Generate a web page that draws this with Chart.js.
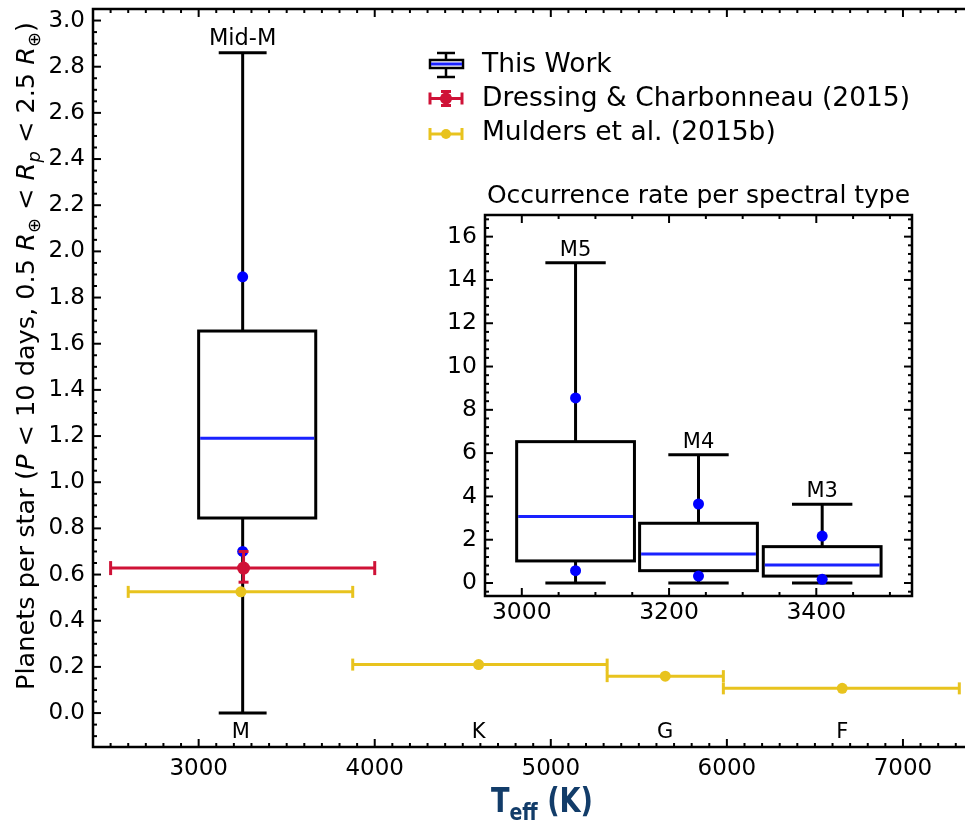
<!DOCTYPE html>
<html>
<head>
<meta charset="utf-8">
<script src="https://cdn.jsdelivr.net/npm/chart.js@4.4.1/dist/chart.umd.min.js"></script>
<style>
  html, body { margin: 0; padding: 0; background: #fff; overflow: hidden; }
  #wrap { position: relative; width: 965px; height: 824px; overflow: hidden; }
  #mainBox { position: absolute; left: 0; top: 0; width: 1010px; height: 824px; }
  #insetBox { position: absolute; left: 430px; top: 170px; width: 500px; height: 460px; }
</style>
</head>
<body>
<div id="wrap">
  <div id="mainBox"><canvas id="main" width="1010" height="824"></canvas></div>
  <div id="insetBox"><canvas id="inset" width="500" height="460"></canvas></div>
</div>
<script>
// ---- main panel: planets per star vs effective temperature ----
const xTicks = [3000, 4000, 5000, 6000, 7000];
const yTicks = [0.0, 0.2, 0.4, 0.6, 0.8, 1.0, 1.2, 1.4, 1.6, 1.8, 2.0, 2.2, 2.4, 2.6, 2.8, 3.0];
const seriesNames = ['This Work', 'Dressing & Charbonneau (2015)', 'Mulders et al. (2015b)'];

// This Work, all mid-M dwarfs: [whisker low, q1, median, q3, whisker high]
const midMTeff = 3250;
const midMBoxEdges = [3000, 3665];
const midMBox = [0.0, 0.845, 1.19, 1.655, 2.86];
const midMDots = [1.89, 0.70];

// Dressing & Charbonneau (2015)
const dcTeff = [3255];
const dcTeffLow = [2500];
const dcTeffHigh = [4000];
const dcRate = [0.628];
const dcRateLow = [0.567];
const dcRateHigh = [0.70];

// Mulders et al. (2015b), one bin per spectral type
const spectralTypes = ['M', 'K', 'G', 'F'];
const muldersTeff = [3240, 4590, 5650, 6655];
const muldersTeffLow = [2600, 3875, 5320, 5980];
const muldersTeffHigh = [3875, 5320, 5980, 7320];
const muldersRate = [0.525, 0.21, 0.16, 0.107];

// ---- inset: occurrence rate per spectral sub-type ----
const subTypes = ['M5', 'M4', 'M3'];
const subTeff = [3073, 3240, 3408];
const subBoxes = [
  [0.0, 1.02, 3.07, 6.53, 14.8],
  [0.0, 0.57, 1.34, 2.76, 5.92],
  [0.0, 0.32, 0.83, 1.68, 3.64]
];
const subDots = [[8.55, 0.57], [3.65, 0.32], [2.17, 0.17]];
const insetXTicks = [3000, 3200, 3400];
const insetYTicks = [0, 2, 4, 6, 8, 10, 12, 14, 16];

const FONT = "'DejaVu Sans', sans-serif";
const BLUE = '#0000ff';
const MEDIAN = '#1a22ff';
const RED = '#cf1237';
const YELLOW = '#e8c31e';
const NAVY = '#123c69';

function line(ctx, x1, y1, x2, y2) {
  ctx.beginPath(); ctx.moveTo(x1, y1); ctx.lineTo(x2, y2); ctx.stroke();
}

// inward ticks on every side plus the axes frame
function drawFrame(chart, xStep, yStep, xMajor, yMajor) {
  const { ctx, chartArea: a, scales: { x, y } } = chart;
  ctx.save();
  ctx.strokeStyle = '#000';
  ctx.lineWidth = 2;
  for (let v = Math.ceil(x.min / xStep) * xStep; v <= x.max; v += xStep) {
    const px = x.getPixelForValue(v);
    const len = xMajor.includes(v) ? 8 : 4;
    line(ctx, px, a.bottom, px, a.bottom - len);
    line(ctx, px, a.top, px, a.top + len);
  }
  for (let k = Math.ceil(y.min / yStep); k * yStep <= y.max + 1e-9; k++) {
    const v = k * yStep;
    const py = y.getPixelForValue(v);
    const len = yMajor.some(t => Math.abs(t - v) < 1e-6) ? 8 : 4;
    line(ctx, a.left, py, a.left + len, py);
    line(ctx, a.right, py, a.right - len, py);
  }
  ctx.lineWidth = 2.5;
  ctx.strokeRect(a.left, a.top, a.width, a.height);
  ctx.restore();
}

function drawBox(chart, pos, left, right, capHalf, stats) {
  const { ctx, scales: { x, y } } = chart;
  const [lo, q1, med, q3, hi] = stats;
  const px = x.getPixelForValue(pos);
  const l = x.getPixelForValue(left), r = x.getPixelForValue(right);
  const c1 = x.getPixelForValue(pos - capHalf), c2 = x.getPixelForValue(pos + capHalf);
  ctx.save();
  ctx.strokeStyle = '#000';
  ctx.lineWidth = 3;
  line(ctx, px, y.getPixelForValue(q3), px, y.getPixelForValue(hi));
  line(ctx, px, y.getPixelForValue(q1), px, y.getPixelForValue(lo));
  line(ctx, c1, y.getPixelForValue(hi), c2, y.getPixelForValue(hi));
  line(ctx, c1, y.getPixelForValue(lo), c2, y.getPixelForValue(lo));
  ctx.strokeRect(l, y.getPixelForValue(q3), r - l, y.getPixelForValue(q1) - y.getPixelForValue(q3));
  ctx.strokeStyle = MEDIAN;
  ctx.lineWidth = 3;
  line(ctx, l + 1.5, y.getPixelForValue(med), r - 1.5, y.getPixelForValue(med));
  ctx.restore();
}

function drawErrorBar(chart, color, xv, yv, xl, xh, yl, yh, cap) {
  const { ctx, scales: { x, y } } = chart;
  const px = x.getPixelForValue(xv), py = y.getPixelForValue(yv);
  ctx.save();
  ctx.strokeStyle = color;
  ctx.lineWidth = 3;
  const a = x.getPixelForValue(xl), b = x.getPixelForValue(xh);
  line(ctx, a, py, b, py);
  line(ctx, a, py - cap, a, py + cap);
  line(ctx, b, py - cap, b, py + cap);
  if (yl !== undefined) {
    const t = y.getPixelForValue(yh), u = y.getPixelForValue(yl);
    line(ctx, px, t, px, u);
    line(ctx, px - 5, t, px + 5, t);
    line(ctx, px - 5, u, px + 5, u);
  }
  ctx.restore();
}

// text runs with italic / subscript pieces, squeezed to a given width
function runFont(r, size) {
  const s = r.sub ? size * 0.7 : size;
  return (r.it ? 'italic ' : '') + (r.bold ? 'bold ' : '') + s + 'px ' + FONT;
}
function drawRich(ctx, runs, cx, baseY, size, width) {
  let w = 0;
  runs.forEach(r => { ctx.font = runFont(r, size); w += ctx.measureText(r.t).width; });
  const sx = width ? width / w : 1;
  ctx.save();
  ctx.translate(cx - (w * sx) / 2, baseY);
  ctx.scale(sx, 1);
  let xPos = 0;
  runs.forEach(r => {
    ctx.font = runFont(r, size);
    ctx.fillText(r.t, xPos, r.sub ? size * 0.25 : 0);
    xPos += ctx.measureText(r.t).width;
  });
  ctx.restore();
}

const mainPlugin = {
  id: 'mainDecor',
  beforeDatasetsDraw(chart) {
    drawBox(chart, midMTeff, midMBoxEdges[0], midMBoxEdges[1], 136, midMBox);
  },
  afterDatasetsDraw(chart) {
    dcTeff.forEach((t, i) => drawErrorBar(chart, RED, t, dcRate[i], dcTeffLow[i], dcTeffHigh[i], dcRateLow[i], dcRateHigh[i], 7));
    muldersTeff.forEach((t, i) => drawErrorBar(chart, YELLOW, t, muldersRate[i], muldersTeffLow[i], muldersTeffHigh[i], undefined, undefined, 6));
  },
  afterDraw(chart) {
    const { ctx, scales: { x } } = chart;
    drawFrame(chart, 100, 0.05, xTicks, yTicks);
    ctx.save();
    ctx.fillStyle = '#000';
    ctx.textAlign = 'center';
    ctx.textBaseline = 'alphabetic';
    ctx.font = '22.5px ' + FONT;
    ctx.fillText('Mid-M', x.getPixelForValue(midMTeff), 45);
    ctx.font = '21px ' + FONT;
    spectralTypes.forEach((s, i) => ctx.fillText(s, x.getPixelForValue(muldersTeff[i]), 738));

    // legend
    const hx = 446, tx = 482;
    ctx.textAlign = 'left';
    ctx.font = '26.5px ' + FONT;
    const rows = [72, 106, 140];
    seriesNames.forEach((n, i) => ctx.fillText(n, tx, rows[i]));
    ctx.strokeStyle = '#000';
    ctx.lineWidth = 2.5;
    line(ctx, 437, 53, 455, 53);
    line(ctx, hx, 53, hx, 60);
    line(ctx, hx, 68, hx, 77);
    line(ctx, 437, 77, 455, 77);
    ctx.strokeRect(430, 60, 33, 8);
    ctx.strokeStyle = MEDIAN;
    ctx.lineWidth = 3;
    line(ctx, 431, 64, 462, 64);
    [[RED, 98.5, 6], [YELLOW, 134, 5]].forEach(([c, yy, rad], i) => {
      ctx.strokeStyle = c; ctx.fillStyle = c; ctx.lineWidth = 3;
      line(ctx, 430, yy, 462, yy);
      line(ctx, 430, yy - 6, 430, yy + 6);
      line(ctx, 462, yy - 6, 462, yy + 6);
      if (i === 0) {
        line(ctx, hx, yy - 7, hx, yy + 7);
        line(ctx, hx - 5, yy - 7, hx + 5, yy - 7);
        line(ctx, hx - 5, yy + 7, hx + 5, yy + 7);
      }
      ctx.beginPath(); ctx.arc(hx, yy, rad, 0, Math.PI * 2); ctx.fill();
    });

    // axis titles
    ctx.fillStyle = '#000';
    ctx.save();
    ctx.translate(34, 356);
    ctx.rotate(-Math.PI / 2);
    drawRich(ctx, [
      { t: 'Planets per star (' }, { t: 'P', it: 1 },
      { t: ' < 10 days, 0.5 ' }, { t: 'R', it: 1 }, { t: '\u2295', sub: 1 },
      { t: ' < ' }, { t: 'R', it: 1 }, { t: 'p', it: 1, sub: 1 },
      { t: ' < 2.5 ' }, { t: 'R', it: 1 }, { t: '\u2295', sub: 1 }, { t: ')' }
    ], 0, 0, 25, 668);
    ctx.restore();
    ctx.fillStyle = NAVY;
    drawRich(ctx, [
      { t: 'T', bold: 1 }, { t: 'eff', bold: 1, sub: 1 }, { t: ' (K)', bold: 1 }
    ], 542, 812, 33, 102);
    ctx.restore();
  }
};

new Chart(document.getElementById('main'), {
  type: 'scatter',
  data: {
    datasets: [
      { label: seriesNames[2], data: muldersTeff.map((t, i) => ({ x: t, y: muldersRate[i] })),
        backgroundColor: YELLOW, borderColor: YELLOW, pointRadius: 5.5, pointBorderWidth: 0 },
      { label: seriesNames[1], data: dcTeff.map((t, i) => ({ x: t, y: dcRate[i] })),
        backgroundColor: RED, borderColor: RED, pointRadius: 6.5, pointBorderWidth: 0 },
      { label: seriesNames[0], data: midMDots.map(v => ({ x: midMTeff, y: v })),
        backgroundColor: BLUE, borderColor: BLUE, pointRadius: 5.5, pointBorderWidth: 0 }
    ]
  },
  options: {
    responsive: false,
    animation: false,
    events: [],
    layout: { autoPadding: false, padding: { top: 9, right: 19, left: 0, bottom: 0 } },
    plugins: { legend: { display: false }, tooltip: { enabled: false } },
    scales: {
      x: {
        type: 'linear', min: 2400, max: 7500,
        grid: { display: false, drawTicks: false }, border: { display: false },
        afterBuildTicks: s => { s.ticks = xTicks.map(v => ({ value: v })); },
        afterFit: s => { s.height = 77; s.paddingLeft = 0; s.paddingRight = 0; },
        ticks: { color: '#000', font: { family: FONT, size: 23 }, padding: 8, maxRotation: 0, autoSkip: false,
                 callback: v => String(v) }
      },
      y: {
        type: 'linear', min: -0.147, max: 3.05,
        grid: { display: false, drawTicks: false }, border: { display: false },
        afterBuildTicks: s => { s.ticks = yTicks.map(v => ({ value: v })); },
        afterFit: s => { s.width = 93; s.paddingTop = 0; s.paddingBottom = 0; },
        ticks: { color: '#000', font: { family: FONT, size: 23 }, padding: 8, autoSkip: false,
                 callback: v => v.toFixed(1) }
      }
    }
  },
  plugins: [mainPlugin]
});

const insetPlugin = {
  id: 'insetDecor',
  beforeDraw(chart) {
    const { ctx, chartArea: a } = chart;
    ctx.save();
    ctx.fillStyle = '#fff';
    ctx.fillRect(a.left, a.top, a.width, a.height);
    ctx.restore();
  },
  beforeDatasetsDraw(chart) {
    subTeff.forEach((t, i) => drawBox(chart, t, t - 80, t + 80, 41, subBoxes[i]));
  },
  afterDraw(chart) {
    const { ctx, chartArea: a, scales: { x, y } } = chart;
    drawFrame(chart, 50, 0.4, insetXTicks, insetYTicks);
    ctx.save();
    ctx.fillStyle = '#000';
    ctx.textAlign = 'center';
    ctx.font = '25px ' + FONT;
    ctx.fillText('Occurrence rate per spectral type', (a.left + a.right) / 2, 33);
    ctx.font = '21px ' + FONT;
    subTypes.forEach((s, i) => {
      ctx.fillText(s, x.getPixelForValue(subTeff[i]), y.getPixelForValue(subBoxes[i][4]) - 7);
    });
    ctx.restore();
  }
};

new Chart(document.getElementById('inset'), {
  type: 'scatter',
  data: {
    datasets: [{
      label: seriesNames[0],
      data: subTeff.flatMap((t, i) => subDots[i].map(v => ({ x: t, y: v }))),
      backgroundColor: BLUE, borderColor: BLUE, pointRadius: 5.5, pointBorderWidth: 0
    }]
  },
  options: {
    responsive: false,
    animation: false,
    events: [],
    layout: { autoPadding: false, padding: { top: 45, right: 18, left: 0, bottom: 0 } },
    plugins: { legend: { display: false }, tooltip: { enabled: false } },
    scales: {
      x: {
        type: 'linear', min: 2950, max: 3530,
        grid: { display: false, drawTicks: false }, border: { display: false },
        afterBuildTicks: s => { s.ticks = insetXTicks.map(v => ({ value: v })); },
        afterFit: s => { s.height = 34; s.paddingLeft = 0; s.paddingRight = 0; },
        ticks: { color: '#000', font: { family: FONT, size: 23.5 }, padding: 3, maxRotation: 0, autoSkip: false,
                 callback: v => String(v) }
      },
      y: {
        type: 'linear', min: -0.6, max: 17,
        grid: { display: false, drawTicks: false }, border: { display: false },
        afterBuildTicks: s => { s.ticks = insetYTicks.map(v => ({ value: v })); },
        afterFit: s => { s.width = 55; s.paddingTop = 0; s.paddingBottom = 0; },
        ticks: { color: '#000', font: { family: FONT, size: 23.5 }, padding: 8, autoSkip: false }
      }
    }
  },
  plugins: [insetPlugin]
});
</script>
</body>
</html>
